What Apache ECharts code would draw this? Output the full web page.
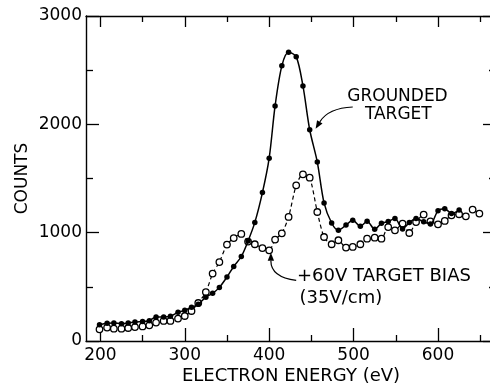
<!DOCTYPE html>
<html>
<head>
<meta charset="utf-8">
<script src="https://cdn.jsdelivr.net/npm/echarts@6/dist/echarts.min.js"></script>
<style>
  html, body { margin: 0; padding: 0; background: #fff; }
  #chart { width: 490px; height: 383px; }
</style>
</head>
<body>
<div id="chart"></div>
<script>
// electron energy (eV) of each sample, shared by both runs
const energy = [199, 208, 216, 225, 233, 241, 250, 258, 266, 275, 283, 292, 300, 308, 316, 325, 333, 341, 350, 358,
  367, 375, 383, 392, 400, 407, 415, 423, 432, 440, 448, 457, 465, 474, 482, 491, 499, 508, 516, 525,
  533, 541, 549, 558, 566, 574, 583, 591, 600, 608, 616, 625, 633, 641, 649];

// grounded target (filled dots)
const grounded = [150, 163, 166, 160, 166, 175, 180, 187, 222, 222, 228, 265, 283, 311, 339, 405, 440, 495, 590, 688,
  780, 923, 1095, 1370, 1688, 2170, 2540, 2665, 2625, 2354, 1950, 1652, 1275, 1089, 1022, 1070, 1114, 1059, 1106, 1032,
  1086, 1103, 1130, 1035, 1093, 1130, 1100, 1080, 1203, 1220, 1178, 1209];

// +60V target bias (open circles)
const biased = [108, 124, 114, 114, 120, 129, 135, 145, 170, 185, 185, 207, 231, 277, 351, 452, 622, 729, 890, 950,
  988, 918, 893, 858, 837, 936, 994, 1145, 1437, 1539, 1508, 1191, 960, 893, 930, 862, 868, 893, 945, 954,
  945, 1052, 1022, 1084, 997, 1098, 1167, 1105, 1077, 1108, 1160, 1170, 1151, 1213, 1176];

const majorX = [200, 300, 400, 500, 600];
const minorX = [250, 350, 450, 550, 650];

const FONT = "DejaVu Sans";
const X_MIN = 183;
const X_MAX = 668.7;

const chart = echarts.init(document.getElementById("chart"), null, { renderer: "canvas" });

function xAxisPart(position, ticks, len, withLine, withLabels) {
  return {
    type: "value",
    position,
    min: X_MIN,
    max: X_MAX,
    axisLine: { show: withLine, lineStyle: { color: "#000", width: 1.4 } },
    axisTick: { show: true, inside: true, length: len, customValues: ticks, lineStyle: { color: "#000", width: 1.3 } },
    axisLabel: withLabels
      ? { show: true, customValues: ticks, color: "#000", fontFamily: FONT, fontSize: 17, margin: 6 }
      : { show: false },
    splitLine: { show: false },
    ...(withLabels
      ? {
          name: "ELECTRON ENERGY (eV)",
          nameLocation: "middle",
          nameGap: 26,
          nameMoveOverlap: false,
          nameTextStyle: { color: "#000", fontFamily: FONT, fontSize: 18 },
        }
      : {}),
  };
}

function yAxisPart(position, withLabels) {
  return {
    type: "value",
    position,
    min: 0,
    max: 3000,
    interval: 1000,
    axisLine: { show: true, lineStyle: { color: "#000", width: 1.4 } },
    axisTick: { show: true, inside: true, length: 13, lineStyle: { color: "#000", width: 1.3 } },
    minorTick: { show: true, splitNumber: 2, length: 7, lineStyle: { color: "#000", width: 1.3 } },
    axisLabel: withLabels
      ? { show: true, color: "#000", fontFamily: FONT, fontSize: 17, margin: 4, formatter: (v) => String(v) }
      : { show: false },
    splitLine: { show: false },
    ...(withLabels
      ? {
          name: "COUNTS",
          nameLocation: "middle",
          nameGap: 55,
          nameMoveOverlap: false,
          nameTextStyle: { color: "#000", fontFamily: FONT, fontSize: 17 },
        }
      : {}),
  };
}

const option = {
  backgroundColor: "#fff",
  animation: false,
  grid: { left: 86, top: 16, width: 410, height: 325, outerBoundsMode: "none", containLabel: false },
  xAxis: [
    xAxisPart("bottom", majorX, 13, true, true),
    xAxisPart("bottom", minorX, 6, false, false),
    xAxisPart("top", majorX, 11, true, false),
    xAxisPart("top", minorX, 6, false, false),
  ],
  yAxis: [yAxisPart("left", true), yAxisPart("right", false)],
  series: [
    {
      name: "+60V target bias",
      type: "line",
      data: biased.map((v, i) => [energy[i], v]),
      smooth: 0.25,
      symbol: "circle",
      symbolSize: 6.5,
      itemStyle: { color: "#fff", borderColor: "#000", borderWidth: 1.3 },
      lineStyle: { color: "#000", width: 1.2, type: [4, 3] },
      z: 3,
    },
    {
      name: "Grounded target",
      type: "line",
      data: grounded.map((v, i) => [energy[i], v]),
      smooth: 0.3,
      symbol: "circle",
      symbolSize: 5.5,
      itemStyle: { color: "#000", borderColor: "#000", borderWidth: 0 },
      lineStyle: { color: "#000", width: 1.5 },
      z: 4,
    },
  ],
};

chart.setOption(option);

// annotations, anchored in data space
const toPx = (p) => chart.convertToPixel({ xAxisIndex: 0, yAxisIndex: 0 }, p);

function arrow(from, ctrl, to) {
  const a = toPx(from), c = toPx(ctrl), b = toPx(to);
  const ang = Math.atan2(b[1] - c[1], b[0] - c[0]);
  const L = 8, W = 3.2;
  const bx = b[0] - L * Math.cos(ang), by = b[1] - L * Math.sin(ang);
  return [
    {
      type: "bezierCurve",
      shape: { x1: a[0], y1: a[1], cpx1: c[0], cpy1: c[1], x2: bx, y2: by },
      style: { stroke: "#000", lineWidth: 1.2, fill: null },
      z: 10,
    },
    {
      type: "polygon",
      shape: {
        points: [
          b,
          [bx + W * Math.sin(ang), by - W * Math.cos(ang)],
          [bx - W * Math.sin(ang), by + W * Math.cos(ang)],
        ],
      },
      style: { fill: "#000" },
      z: 10,
    },
  ];
}

function label(text, at, align, size) {
  const p = toPx(at);
  return {
    type: "text",
    x: p[0],
    y: p[1],
    style: { text, fill: "#000", fontFamily: FONT, fontSize: size, align: align, verticalAlign: "middle" },
    z: 10,
  };
}

chart.setOption({
  graphic: [
    label("GROUNDED", [552, 2259], "center", 17),
    label("TARGET", [553, 2093], "center", 17),
    ...arrow([499, 2160], [470, 2150], [455, 1960]),
    label("+60V TARGET BIAS", [433, 593], "left", 18),
    label("(35V/cm)", [436, 394], "left", 18),
    ...arrow([432, 560], [402, 590], [402, 815]),
  ],
});
</script>
</body>
</html>
